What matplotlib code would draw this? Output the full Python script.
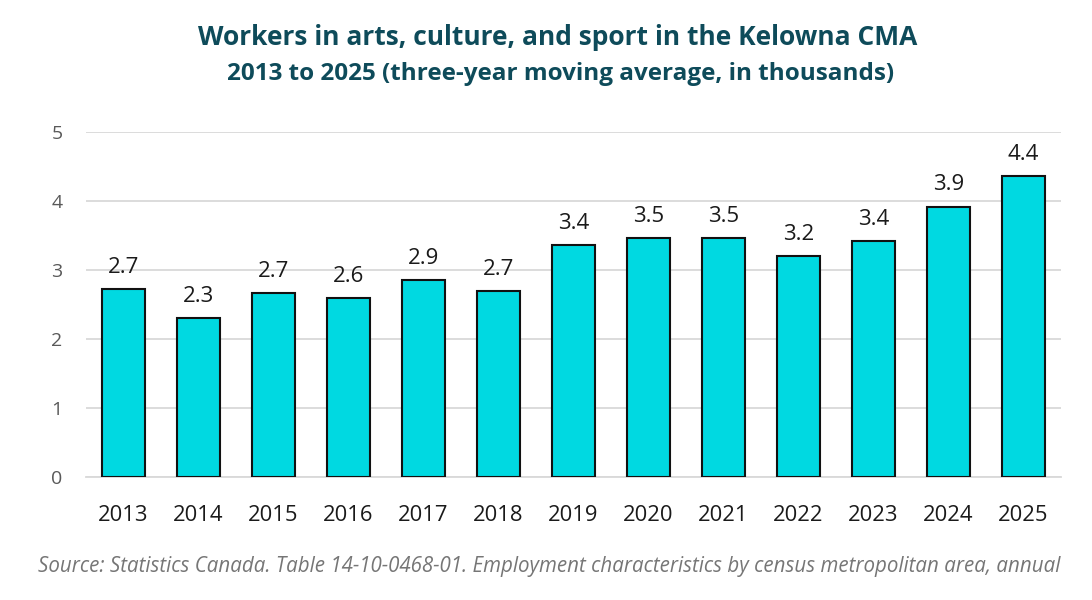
import matplotlib
matplotlib.use("Agg")
import matplotlib.pyplot as plt

years = ["2013", "2014", "2015", "2016", "2017", "2018", "2019",
         "2020", "2021", "2022", "2023", "2024", "2025"]
workers = [2.72, 2.30, 2.66, 2.59, 2.86, 2.69, 3.36,
           3.46, 3.46, 3.20, 3.42, 3.92, 4.36]
yticks = [0, 1, 2, 3, 4, 5]

title1 = "Workers in arts, culture, and sport in the Kelowna CMA"
title2 = "2013 to 2025 (three-year moving average, in thousands)"
source = ("Source: Statistics Canada. Table 14-10-0468-01. Employment "
          "characteristics by census metropolitan area, annual")

plt.rcParams['font.family'] = ['Open Sans', 'DejaVu Sans']

fig = plt.figure(figsize=(10.92, 6.0), dpi=100)
ax = fig.add_axes([0.0788, 0.205, 0.8928, 0.575])

x = list(range(len(years)))
bars = ax.bar(x, workers, width=0.575, color="#00D9E1",
              edgecolor="#111111", linewidth=1.5, zorder=3)
for xi, v in zip(x, workers):
    ax.annotate(f"{v:.1f}", (xi, v), xytext=(0, 8), textcoords="offset points",
                ha="center", va="bottom", fontsize=16, color="#1a1a1a")

ax.set_xlim(-0.5, len(years) - 0.5)
ax.set_ylim(0, 5)
ax.set_yticks(yticks)
ax.set_yticklabels([str(t) for t in yticks], fontsize=14, color="#595959")
ax.set_xticks(x)
ax.set_xticklabels(years, fontsize=15.8, color="#1a1a1a")
ax.tick_params(axis="both", length=0)
ax.tick_params(axis="x", pad=20)
ax.tick_params(axis="y", pad=17)
ax.grid(axis="y", color="#D9D9D9", linewidth=1.3, zorder=0)
for s in ["top", "right", "left"]:
    ax.spines[s].set_visible(False)
ax.spines["bottom"].set_color("#D9D9D9")
ax.spines["bottom"].set_linewidth(1.3)

fig.text(0.511, 0.937, title1, ha="center", va="center", fontsize=19,
         fontweight="bold", color="#0E4B5A")
fig.text(0.513, 0.877, title2, ha="center", va="center", fontsize=17.5,
         fontweight="bold", color="#0E4B5A")
fig.text(0.503, 0.056, source, ha="center", va="center", fontsize=14.8,
         style="italic", color="#767676")

fig.savefig("out.png", dpi=100)
